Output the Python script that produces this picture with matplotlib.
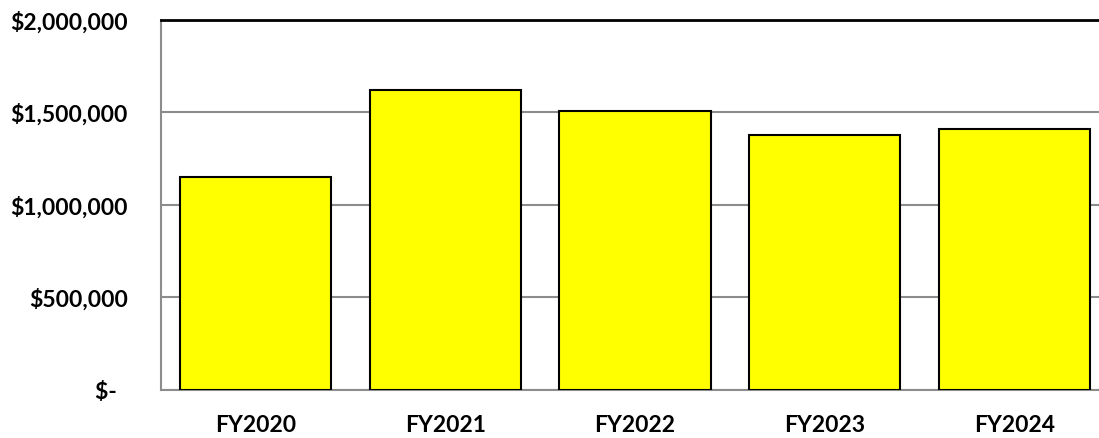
import matplotlib.pyplot as plt
from matplotlib.ticker import FuncFormatter

years = ["FY2020", "FY2021", "FY2022", "FY2023", "FY2024"]
amounts = [1147000, 1621000, 1508000, 1374000, 1410000]
yticks = [0, 500000, 1000000, 1500000, 2000000]

plt.rcParams['font.family'] = ['Lato', 'DejaVu Sans']

def money(v, pos):
    if v == 0:
        return "$-  "
    return "${:,.0f}".format(v)

fig = plt.figure(figsize=(10.99, 4.39), dpi=100)
# plot area runs a little past the right edge, as in the original
ax = fig.add_axes([161 / 1099, 48.5 / 439, 948 / 1099, 370 / 439])

x = range(len(years))
ax.bar(x, amounts, width=0.797, color="#FFFF00", edgecolor="black", linewidth=1.5, zorder=3)

ax.set_xlim(-0.5, len(years) - 0.5)
ax.set_ylim(0, 2000000)
ax.set_yticks(yticks)
ax.yaxis.set_major_formatter(FuncFormatter(money))
ax.set_xticks(list(x))
ax.set_xticklabels(years)

ax.grid(axis="y", color="#8c8c8c", linewidth=1.5, zorder=0)
ax.tick_params(axis="both", length=0, labelsize=16.5)
ax.tick_params(axis="y", pad=24)
ax.tick_params(axis="x", pad=18)
for lab in ax.get_xticklabels() + ax.get_yticklabels():
    lab.set_fontweight("bold")

ax.spines["top"].set_color("black")
ax.spines["top"].set_linewidth(2)
ax.spines["left"].set_color("#8c8c8c")
ax.spines["left"].set_linewidth(1.5)
ax.spines["bottom"].set_color("#8c8c8c")
ax.spines["bottom"].set_linewidth(1.5)
ax.spines["right"].set_visible(False)

fig.savefig("out.png", dpi=100)
